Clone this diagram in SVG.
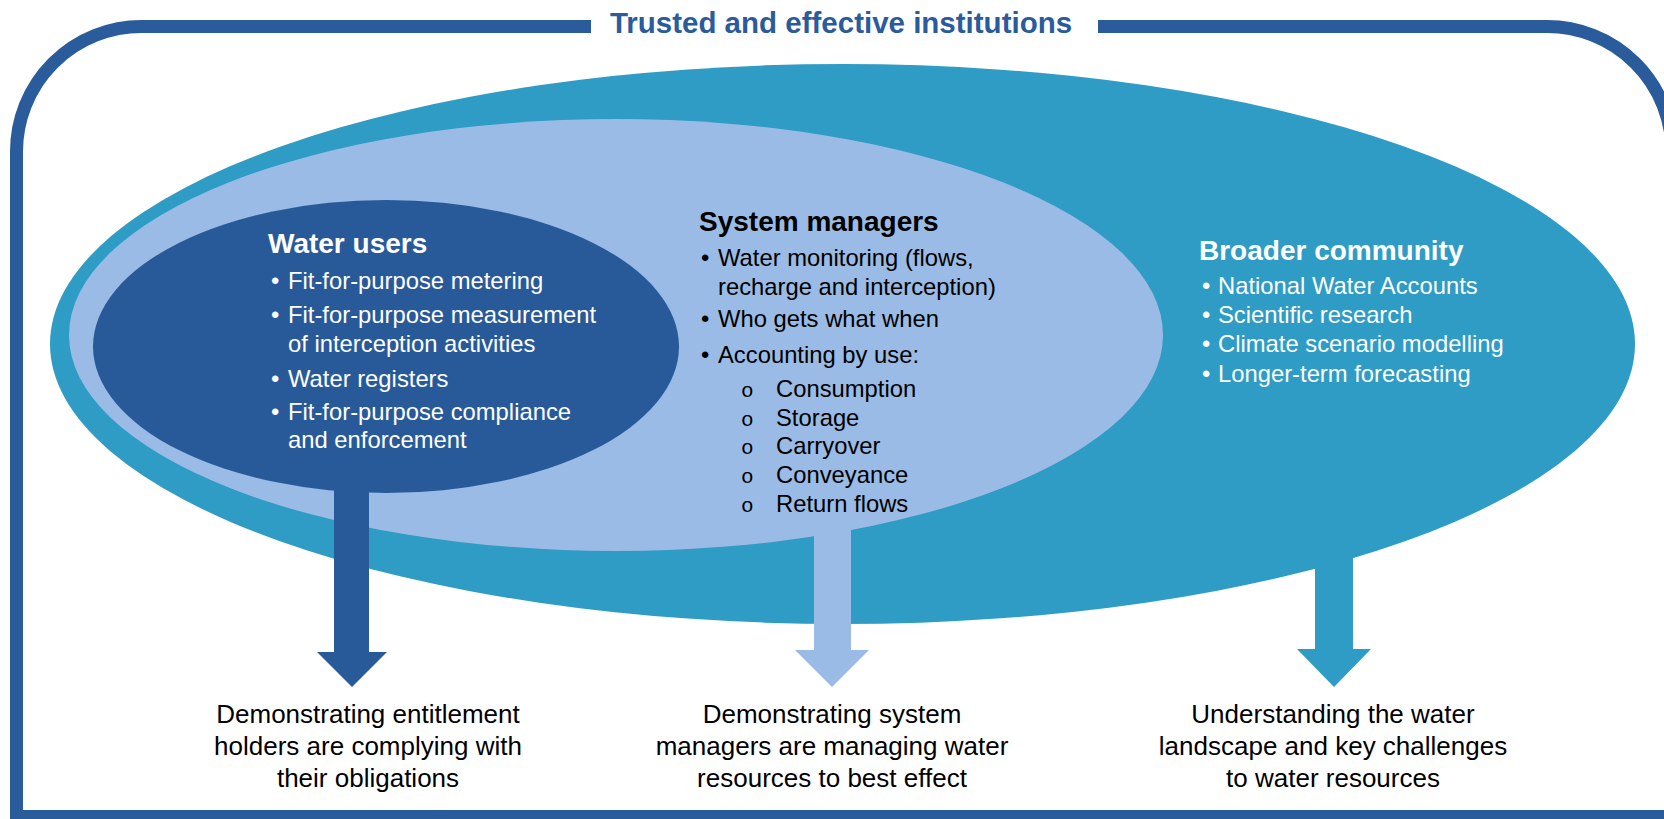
<svg xmlns="http://www.w3.org/2000/svg" width="1664" height="819" viewBox="0 0 1664 819">
  <style>
    .head { font-family: "Liberation Sans", Arial, sans-serif; font-weight: bold; font-size: 28px; }
    .body { font-family: "Liberation Sans", Arial, sans-serif; font-size: 23.8px; }
    .sub { font-family: "Liberation Mono", "Courier New", monospace; font-size: 21px; }
    .out { font-family: "Liberation Sans", Arial, sans-serif; font-size: 26px; fill: #000; text-anchor: middle; }
    .white { fill: #ffffff; }
    .black { fill: #000000; }
    .teal { fill: #2E9CC4; }
    .light { fill: #9ABBE5; }
    .dark { fill: #285A9A; }
  </style>
  <rect width="1664" height="819" fill="#ffffff"/>
  <g id="frame">
    <path d="M16.5,816.5 L16.5,151.5 A125,125 0 0 1 141.5,26.5 L1547,26.5 A125,125 0 0 1 1672,151.5 L1672,816.5 Z" fill="none" stroke="#2A5B9B" stroke-width="13"/>
    <rect x="591" y="10" width="507" height="34" fill="#ffffff"/>
    <text x="841" y="33" text-anchor="middle" font-family="Liberation Sans, Arial, sans-serif" font-weight="bold" font-size="29.5" fill="#2A5B9B">Trusted and effective institutions</text>
  </g>
  <g id="broader-community">
    <ellipse class="teal" cx="842.5" cy="344" rx="792.5" ry="280"/>
    <text class="head white" x="1199" y="260">Broader community</text>
    <g class="body white">
      <text x="1202" y="294">•</text><text x="1218" y="294">National Water Accounts</text>
      <text x="1202" y="323">•</text><text x="1218" y="323">Scientific research</text>
      <text x="1202" y="352">•</text><text x="1218" y="352">Climate scenario modelling</text>
      <text x="1202" y="382">•</text><text x="1218" y="382">Longer-term forecasting</text>
    </g>
  </g>
  <g id="system-managers">
    <ellipse class="light" cx="616" cy="335" rx="547" ry="216"/>
    <text class="head black" x="699" y="231">System managers</text>
    <g class="body black">
      <text x="701" y="266">•</text><text x="718" y="266">Water monitoring (flows,</text>
      <text x="718" y="295">recharge and interception)</text>
      <text x="701" y="327">•</text><text x="718" y="327">Who gets what when</text>
      <text x="701" y="363">•</text><text x="718" y="363">Accounting by use:</text>
      <text x="776" y="397">Consumption</text>
      <text x="776" y="426">Storage</text>
      <text x="776" y="454">Carryover</text>
      <text x="776" y="483">Conveyance</text>
      <text x="776" y="512">Return flows</text>
    </g>
    <g class="sub black">
      <text x="741" y="397">o</text>
      <text x="741" y="426">o</text>
      <text x="741" y="454">o</text>
      <text x="741" y="483">o</text>
      <text x="741" y="512">o</text>
    </g>
  </g>
  <g id="water-users">
    <ellipse class="dark" cx="386" cy="346.5" rx="293" ry="146.5"/>
    <text class="head white" x="268" y="253">Water users</text>
    <g class="body white">
      <text x="271" y="289">•</text><text x="288" y="289">Fit-for-purpose metering</text>
      <text x="271" y="323">•</text><text x="288" y="323">Fit-for-purpose measurement</text>
      <text x="288" y="352">of interception activities</text>
      <text x="271" y="387">•</text><text x="288" y="387">Water registers</text>
      <text x="271" y="420">•</text><text x="288" y="420">Fit-for-purpose compliance</text>
      <text x="288" y="448">and enforcement</text>
    </g>
  </g>
  <g id="connectors">
    <polygon class="dark" points="334,485 369,485 369,652 387,652 352,687 317,652 334,652"/>
    <polygon class="light" points="814,525 851,525 851,650 869,650 832,687 795,650 814,650"/>
    <polygon class="teal" points="1315,540 1353,540 1353,649 1371,649 1334,687 1297,649 1315,649"/>
  </g>
  <g id="outcome-compliance">
    <text class="out" x="368" y="723">Demonstrating entitlement</text>
    <text class="out" x="368" y="755">holders are complying with</text>
    <text class="out" x="368" y="787">their obligations</text>
  </g>
  <g id="outcome-management">
    <text class="out" x="832" y="723">Demonstrating system</text>
    <text class="out" x="832" y="755">managers are managing water</text>
    <text class="out" x="832" y="787">resources to best effect</text>
  </g>
  <g id="outcome-understanding">
    <text class="out" x="1333" y="723">Understanding the water</text>
    <text class="out" x="1333" y="755">landscape and key challenges</text>
    <text class="out" x="1333" y="787">to water resources</text>
  </g>
</svg>
